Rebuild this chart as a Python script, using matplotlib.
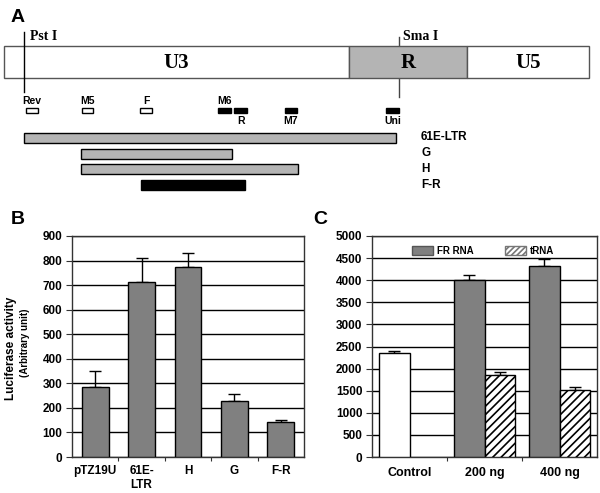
import matplotlib
matplotlib.use('Agg')
import matplotlib.pyplot as plt
from matplotlib.patches import Rectangle, Patch
import numpy as np

plt.rcParams['font.family'] = ['Liberation Sans', 'DejaVu Sans']
plt.rcParams['hatch.linewidth'] = 1.2
plt.rcParams['font.weight'] = 'bold'

# ---------------- Panel A: LTR map (positions along the schematic) ----------------
ltr_regions = ['U3', 'R', 'U5']
ltr_starts = [4, 349, 467]
ltr_ends = [349, 467, 589]
ltr_colors = ['white', '#b4b4b4', 'white']
sites = ['Pst I', 'Sma I']
site_pos = [24, 399]
primers = ['Rev', 'M5', 'F', 'M6', 'R', 'M7', 'Uni']
primer_start = [26, 82, 140, 218, 234, 285, 386]
primer_end = [38, 93, 152, 231, 247, 297, 399]
primer_filled = [False, False, False, True, True, True, True]
primer_label_above = [True, True, True, True, False, False, False]
fragments = ['61E-LTR', 'G', 'H', 'F-R']
frag_start = [24, 81, 81, 141]
frag_end = [396, 232, 298, 245]
frag_colors = ['#b4b4b4', '#b4b4b4', '#b4b4b4', 'black']

# ---------------- Panel B ----------------
b_cats = ['pTZ19U', '61E-\nLTR', 'H', 'G', 'F-R']
b_vals = [287, 712, 775, 229, 142]
b_err = [63, 98, 57, 29, 10]
b_yticks = [0, 100, 200, 300, 400, 500, 600, 700, 800, 900]

# ---------------- Panel C ----------------
c_cats = ['Control', '200 ng', '400 ng']
c_fr = [2350, 4000, 4330]
c_fr_err = [40, 120, 150]
c_trna = [np.nan, 1860, 1525]
c_trna_err = [0, 70, 60]
c_yticks = [0, 500, 1000, 1500, 2000, 2500, 3000, 3500, 4000, 4500, 5000]
c_series = ['FR RNA', 'tRNA']

W, H = 600, 493
fig = plt.figure(figsize=(6.0, 4.93), dpi=100)

def fx(x):
    return x / W

def fy(y):
    return 1 - y / H

# ---- Panel A drawn in a pixel-scaled axes ----
axa = fig.add_axes([0, 0, 1, 1])
axa.set_xlim(0, W)
axa.set_ylim(H, 0)
axa.axis('off')

box_top, box_bot = 46, 78
# Sma I line (behind box)
axa.plot([site_pos[1], site_pos[1]], [37, 97], color='#444444', lw=1, zorder=1)
for name, s, e, c in zip(ltr_regions, ltr_starts, ltr_ends, ltr_colors):
    axa.add_patch(Rectangle((s, box_top), e - s, box_bot - box_top, facecolor=c,
                            edgecolor='#555555', lw=1, zorder=2))
    axa.text((s + e) / 2, 63, name, ha='center', va='center', fontsize=15,
             family=['Liberation Serif'], fontweight='bold', zorder=3)
# Pst I line (crosses box)
axa.plot([site_pos[0], site_pos[0]], [32, 92], color='black', lw=1, zorder=4)
axa.text(site_pos[0] + 6, 37, sites[0], ha='left', va='center', fontsize=10,
         family=['Liberation Serif'], fontweight='bold')
axa.text(site_pos[1] + 4, 37, sites[1], ha='left', va='center', fontsize=10,
         family=['Liberation Serif'], fontweight='bold')

for name, s, e, filled, above in zip(primers, primer_start, primer_end,
                                     primer_filled, primer_label_above):
    axa.add_patch(Rectangle((s, 108), e - s, 5, facecolor='black' if filled else 'white',
                            edgecolor='black', lw=1))
    axa.text((s + e) / 2, 101 if above else 121, name, ha='center', va='center',
             fontsize=7.5, fontweight='bold')

frag_y = [133, 149, 164, 180]
for name, s, e, c, y in zip(fragments, frag_start, frag_end, frag_colors, frag_y):
    axa.add_patch(Rectangle((s, y), e - s, 9.5, facecolor=c, edgecolor='black', lw=1))
    axa.text(421, y + 4.5, name, ha='left', va='center', fontsize=8.5, fontweight='bold')

# ---- Panel B ----
axb = fig.add_axes([fx(72), fy(457), (304 - 72) / W, (457 - 236) / H])
xb = np.arange(len(b_cats))
axb.bar(xb, b_vals, width=0.58, color='#808080', edgecolor='black', lw=1, zorder=3)
axb.errorbar(xb, b_vals, yerr=[np.zeros(len(b_err)), b_err], fmt='none',
             ecolor='black', elinewidth=1, capsize=4, capthick=1, zorder=2)
axb.set_ylim(0, 900)
axb.set_xlim(-0.5, len(b_cats) - 0.5)
axb.set_yticks(b_yticks)
axb.set_xticks(xb[:-1] + 0.5)
axb.set_xticklabels([])
axb.set_xticks(xb, minor=True)
axb.set_xticklabels(b_cats, minor=True, fontsize=8.5, fontweight='bold')
axb.tick_params(axis='x', which='minor', length=0, pad=6)
axb.tick_params(axis='x', which='major', length=3, direction='out', color='#333333')
axb.tick_params(axis='y', length=4, direction='out', pad=3, labelsize=8.5, color='#333333')
for lab in axb.get_yticklabels():
    lab.set_fontweight('bold')
axb.yaxis.grid(True, color='black', lw=1, zorder=0)
axb.set_axisbelow(True)
for sp in axb.spines.values():
    sp.set_color('#333333')
    sp.set_linewidth(1)

fig.text(fx(11), fy(348), 'Luciferase activity', rotation=90, ha='center', va='center',
         fontsize=8.5, fontweight='bold')
fig.text(fx(25), fy(343), '(Arbitrary unit)', rotation=90, ha='center', va='center',
         fontsize=7, fontweight='bold')

# ---- Panel C ----
axc = fig.add_axes([fx(372), fy(457), (597 - 372) / W, (457 - 236) / H])
xc = np.arange(len(c_cats))
bw = 0.41
fr_colors = ['white'] + ['#808080'] * (len(c_cats) - 1)
axc.bar(xc - bw / 2, c_fr, width=bw, color=fr_colors, edgecolor='black', lw=1, zorder=3)
axc.errorbar(xc - bw / 2, c_fr, yerr=[np.zeros(len(c_fr)), c_fr_err], fmt='none',
             ecolor='black', elinewidth=1, capsize=4, capthick=1, zorder=2)
trna_arr = np.array(c_trna, dtype=float)
mask = ~np.isnan(trna_arr)
axc.bar(xc[mask] + bw / 2, trna_arr[mask], width=bw, color='white', edgecolor='black',
        hatch='////', lw=1, zorder=3)
axc.errorbar(xc[mask] + bw / 2, trna_arr[mask],
             yerr=[np.zeros(mask.sum()), np.array(c_trna_err)[mask]], fmt='none',
             ecolor='black', elinewidth=1, capsize=4, capthick=1, zorder=2)
axc.set_ylim(0, 5000)
axc.set_xlim(-0.5, len(c_cats) - 0.5)
axc.set_yticks(c_yticks)
axc.set_xticks(xc[:-1] + 0.5)
axc.set_xticklabels([])
axc.set_xticks(xc, minor=True)
axc.set_xticklabels(c_cats, minor=True, fontsize=9, fontweight='bold')
axc.tick_params(axis='x', which='minor', length=0, pad=7)
axc.tick_params(axis='x', which='major', length=3, direction='out', color='#333333')
axc.tick_params(axis='y', length=4, direction='out', pad=3, labelsize=8.5, color='#333333')
for lab in axc.get_yticklabels():
    lab.set_fontweight('bold')
axc.yaxis.grid(True, color='black', lw=1, zorder=0)
axc.set_axisbelow(True)
for sp in axc.spines.values():
    sp.set_color('#333333')
    sp.set_linewidth(1)

handles = [Patch(facecolor='#808080', edgecolor='#555555', label=c_series[0]),
           Patch(facecolor='white', edgecolor='#777777', hatch='//////', label=c_series[1])]
leg = axc.legend(handles=handles, loc='upper left', bbox_to_anchor=(0.14, 0.995), ncol=2,
                 frameon=False, fontsize=7, handlelength=2.1, handleheight=1.1,
                 columnspacing=3.3, handletextpad=0.4)
for t in leg.get_texts():
    t.set_fontweight('bold')

# Panel letters
fig.text(fx(18), fy(17), 'A', ha='center', va='center', fontsize=14, fontweight='bold')
fig.text(fx(18), fy(220), 'B', ha='center', va='center', fontsize=14, fontweight='bold')
fig.text(fx(320), fy(220), 'C', ha='center', va='center', fontsize=14, fontweight='bold')

fig.savefig('out.png', dpi=100)
